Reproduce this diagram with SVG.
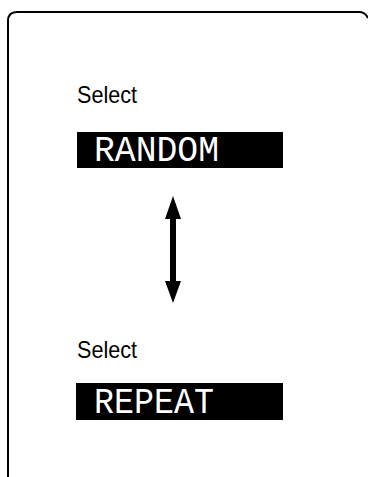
<svg xmlns="http://www.w3.org/2000/svg" width="368" height="477" viewBox="0 0 368 477">
<style>
.lbl{font-family:"Liberation Sans",Arial,sans-serif;font-size:24px;fill:#000}
.box{fill:#000}
.lcd{font-family:"Liberation Mono","Courier New",monospace;font-size:37px;fill:#fff}
.frame{fill:none;stroke:#000;stroke-width:2}
</style>
<rect width="368" height="477" fill="#fff"/>
<path class="frame" d="M8,477 V21 Q8,12 17,12 H359 Q365,12 368,18"/>
<g id="select1"><text class="lbl" x="77" y="103" textLength="60" lengthAdjust="spacingAndGlyphs">Select</text></g>
<g id="random"><rect class="box" x="77" y="132" width="206" height="36"/><text class="lcd" x="94" y="161" textLength="125" lengthAdjust="spacingAndGlyphs">RANDOM</text></g>
<g id="connectors">
<rect x="170" y="214" width="6" height="72" fill="#000"/>
<path d="M173,196 L181,219 L165,219 Z" fill="#000"/>
<path d="M173,303 L181,281 L165,281 Z" fill="#000"/>
</g>
<g id="select2"><text class="lbl" x="77" y="358" textLength="60" lengthAdjust="spacingAndGlyphs">Select</text></g>
<g id="repeat"><rect class="box" x="76" y="383" width="207" height="37"/><text class="lcd" x="94" y="413" textLength="120" lengthAdjust="spacingAndGlyphs">REPEAT</text></g>
</svg>
